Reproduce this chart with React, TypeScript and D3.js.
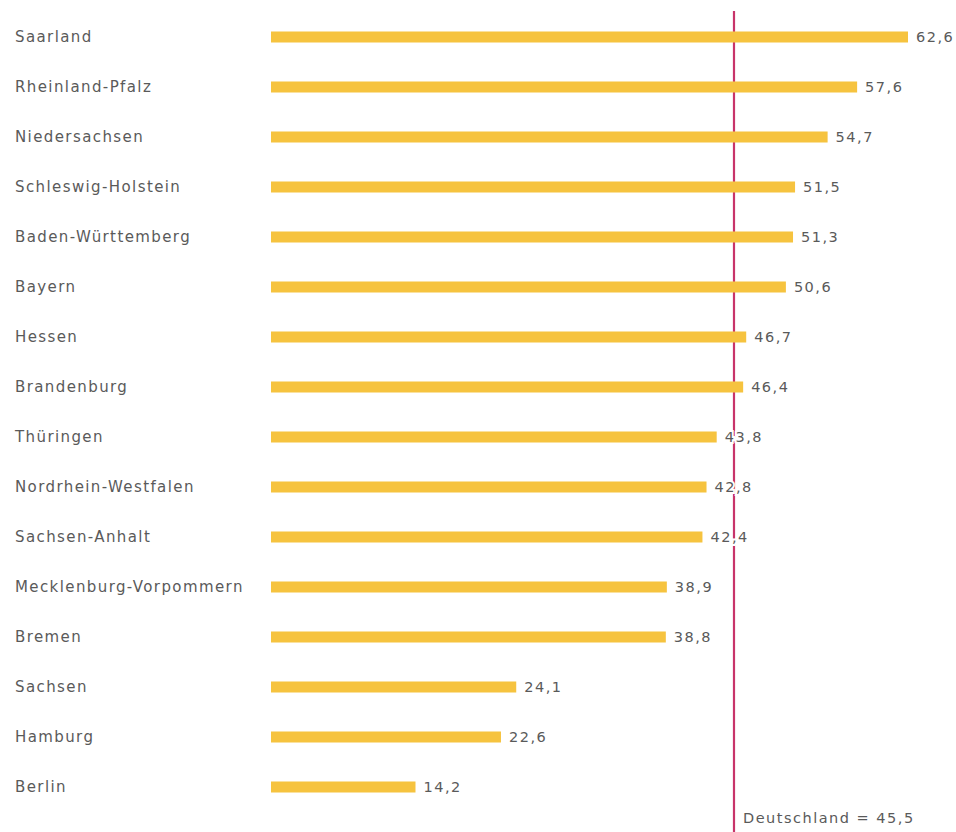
import React from "react";
import * as d3 from "d3";

const states = [
  "Saarland",
  "Rheinland-Pfalz",
  "Niedersachsen",
  "Schleswig-Holstein",
  "Baden-Württemberg",
  "Bayern",
  "Hessen",
  "Brandenburg",
  "Thüringen",
  "Nordrhein-Westfalen",
  "Sachsen-Anhalt",
  "Mecklenburg-Vorpommern",
  "Bremen",
  "Sachsen",
  "Hamburg",
  "Berlin",
];
const values = [62.6, 57.6, 54.7, 51.5, 51.3, 50.6, 46.7, 46.4, 43.8, 42.8, 42.4, 38.9, 38.8, 24.1, 22.6, 14.2];
const germany = 45.5;
const germanyLabel = "Deutschland";

const W = 956;
const H = 832;
const fmt = (v: number) => v.toFixed(1).replace(".", ",");

export default function App() {
  const x = d3.scaleLinear().domain([0, 62.6]).range([271, 908]);
  const y = d3
    .scalePoint<string>()
    .domain(states)
    .range([37, 787]);
  const font = "'DejaVu Sans', Verdana, sans-serif";
  const textColor = "#5a5a5a";
  const refX = x(germany);
  return (
    <svg
      width={W}
      height={H}
      viewBox={`0 0 ${W} ${H}`}
      style={{ position: "absolute", left: 0, top: 0, background: "#fff" }}
    >
      <line x1={refX} x2={refX} y1={11} y2={H} stroke="#c8346a" strokeWidth={2.2} />
      {states.map((s, i) => {
        const cy = y(s)!;
        const v = values[i];
        return (
          <g key={s}>
            <text
              x={15}
              y={cy}
              dy="0.35em"
              fontFamily={font}
              fontSize={15}
              letterSpacing={1.4}
              fill={textColor}
            >
              {s}
            </text>
            <rect x={x(0)} y={cy - 5.5} width={x(v) - x(0)} height={11} fill="#f6c33f" />
            <text
              x={x(v) + 8}
              y={cy}
              dy="0.35em"
              fontFamily={font}
              fontSize={14.5}
              letterSpacing={1.5}
              fill={textColor}
              stroke="#fff"
              strokeWidth={4}
              paintOrder="stroke"
            >
              {fmt(v)}
            </text>
          </g>
        );
      })}
      <text
        x={refX + 9}
        y={818}
        dy="0.35em"
        fontFamily={font}
        fontSize={14.5}
        letterSpacing={1.5}
        fill={textColor}
      >
        {`${germanyLabel} = ${fmt(germany)}`}
      </text>
    </svg>
  );
}
